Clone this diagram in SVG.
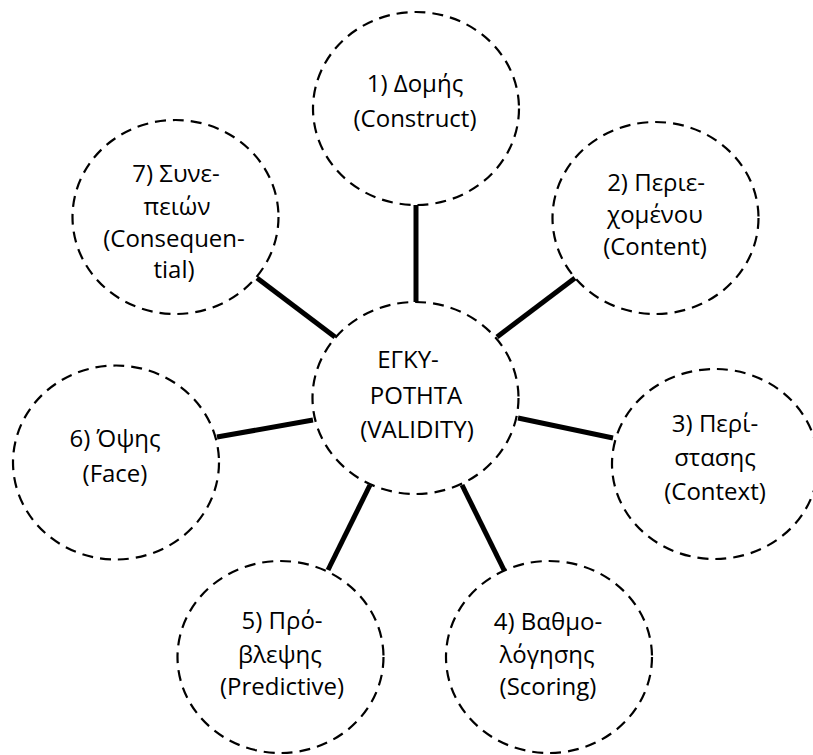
<svg xmlns="http://www.w3.org/2000/svg" width="813" height="755" viewBox="0 0 813 755">
<style>
.node ellipse{fill:#fff;stroke:#000;stroke-width:2.2;stroke-dasharray:11 7}
text{font-family:"Open Sans","Noto Sans","DejaVu Sans",sans-serif;font-size:24px;fill:#000;text-anchor:middle}
#connectors line{stroke:#000;stroke-width:5}
</style>
<rect width="813" height="755" fill="#fff"/>
<g id="connectors">
<line x1="416" y1="205" x2="416" y2="302"/>
<line x1="497" y1="337" x2="575" y2="278"/>
<line x1="518" y1="418" x2="613" y2="438"/>
<line x1="462" y1="485" x2="505" y2="572"/>
<line x1="370" y1="485" x2="328" y2="570"/>
<line x1="313" y1="420" x2="217" y2="437"/>
<line x1="335" y1="337" x2="257" y2="278"/>
</g>
<g id="center" class="node">
<ellipse cx="415.5" cy="398" rx="103" ry="96"/>
<text x="408" y="368">ΕΓΚΥ-</text>
<text x="416" y="404">ΡΟΤΗΤΑ</text>
<text x="417" y="438">(VALIDITY)</text>
</g>
<g id="n1" class="node">
<ellipse cx="416" cy="108.5" rx="103" ry="96.5"/>
<text x="415" y="92">1) Δομής</text>
<text x="415" y="127">(Construct)</text>
</g>
<g id="n2" class="node">
<ellipse cx="655.5" cy="218" rx="103" ry="96"/>
<text x="656" y="191">2) Περιε-</text>
<text x="655" y="223">χομένου</text>
<text x="655" y="255">(Content)</text>
</g>
<g id="n3" class="node">
<ellipse cx="715" cy="464" rx="103" ry="95"/>
<text x="715" y="432">3) Περί-</text>
<text x="715" y="466">στασης</text>
<text x="715" y="500">(Context)</text>
</g>
<g id="n4" class="node">
<ellipse cx="549" cy="657" rx="103" ry="96"/>
<text x="548" y="630">4) Βαθμο-</text>
<text x="547" y="663">λόγησης</text>
<text x="548" y="695">(Scoring)</text>
</g>
<g id="n5" class="node">
<ellipse cx="280.5" cy="657" rx="103" ry="96"/>
<text x="282" y="629">5) Πρό-</text>
<text x="280" y="663">βλεψης</text>
<text x="282" y="695">(Predictive)</text>
</g>
<g id="n6" class="node">
<ellipse cx="116" cy="462.5" rx="103" ry="97"/>
<text x="115" y="447">6) Όψης</text>
<text x="115" y="482">(Face)</text>
</g>
<g id="n7" class="node">
<ellipse cx="175.5" cy="217" rx="103" ry="97"/>
<text x="176" y="182">7) Συνε-</text>
<text x="177" y="215">πειών</text>
<text x="174" y="247">(Consequen-</text>
<text x="174" y="278">tial)</text>
</g>
</svg>
